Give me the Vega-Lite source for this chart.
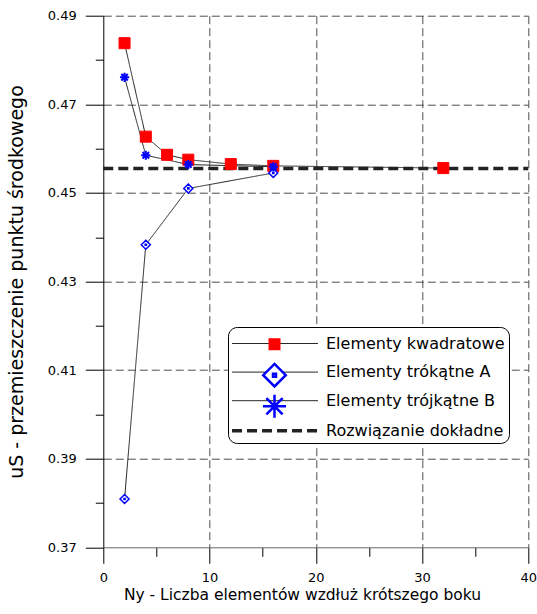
{
  "$schema": "https://vega.github.io/schema/vega-lite/v6.json",
  "width": 425,
  "height": 531.6,
  "autosize": {"type": "none"},
  "padding": {"left": 103.3, "top": 15.7, "right": 8.7, "bottom": 66.7},
  "background": "white",
  "config": {
    "view": {"stroke": null},
    "font": "DejaVu Sans",
    "axis": {
      "labelFont": "DejaVu Sans",
      "titleFont": "DejaVu Sans",
      "labelColor": "#000",
      "titleColor": "#000",
      "labelFontSize": 13,
      "titleFontSize": 15.5,
      "titleFontWeight": "normal",
      "tickColor": "#000",
      "domainColor": "#000",
      "gridColor": "#4d4d4d",
      "gridDash": [8, 4],
      "gridWidth": 1,
      "labelOverlap": false,
      "labelFlush": false,
      "labelBound": false
    }
  },
  "data": {
    "values": [
      {"n": 2, "u": 0.4838, "series": "Elementy kwadratowe"},
      {"n": 4, "u": 0.4627, "series": "Elementy kwadratowe"},
      {"n": 6, "u": 0.4586, "series": "Elementy kwadratowe"},
      {"n": 8, "u": 0.4575, "series": "Elementy kwadratowe"},
      {"n": 12, "u": 0.4565, "series": "Elementy kwadratowe"},
      {"n": 16, "u": 0.4561, "series": "Elementy kwadratowe"},
      {"n": 32, "u": 0.4556, "series": "Elementy kwadratowe"},
      {"n": 2, "u": 0.3809, "series": "Elementy trókątne A"},
      {"n": 4, "u": 0.4383, "series": "Elementy trókątne A"},
      {"n": 8, "u": 0.4510, "series": "Elementy trókątne A"},
      {"n": 16, "u": 0.4545, "series": "Elementy trókątne A"},
      {"n": 2, "u": 0.4761, "series": "Elementy trójkątne B"},
      {"n": 4, "u": 0.4585, "series": "Elementy trójkątne B"},
      {"n": 8, "u": 0.4564, "series": "Elementy trójkątne B"},
      {"n": 16, "u": 0.4559, "series": "Elementy trójkątne B"},
      {"n": 0, "u": 0.4555, "series": "Rozwiązanie dokładne"},
      {"n": 40, "u": 0.4555, "series": "Rozwiązanie dokładne"}
    ]
  },
  "encoding": {
    "x": {
      "field": "n",
      "type": "quantitative",
      "scale": {"domain": [0, 40], "nice": false, "zero": false},
      "axis": {
        "values": [0, 5, 10, 15, 20, 25, 30, 35, 40],
        "labelExpr": "datum.value % 10 === 0 ? datum.label : ''",
        "tickSize": {"condition": {"test": "datum.value % 10 === 0", "value": 16}, "value": 9},
        "grid": true,
        "gridOpacity": {"condition": {"test": "datum.value % 10 === 0 && datum.value > 0", "value": 1}, "value": 0},
        "domainColor": "#666",
        "labelPadding": 8,
        "title": "Ny - Liczba elementów wzdłuż krótszego boku",
        "titleX": 198.7,
        "titlePadding": 3
      }
    },
    "y": {
      "field": "u",
      "type": "quantitative",
      "scale": {"domain": [0.37, 0.49], "nice": false, "zero": false},
      "axis": {
        "values": [0.37, 0.38, 0.39, 0.40, 0.41, 0.42, 0.43, 0.44, 0.45, 0.46, 0.47, 0.48, 0.49],
        "format": ".2f",
        "labelExpr": "round(datum.value * 100) % 2 === 1 ? datum.label : ''",
        "tickSize": {"condition": {"test": "round(datum.value * 100) % 2 === 1", "value": 18}, "value": 8},
        "grid": true,
        "gridOpacity": {"condition": {"test": "round(datum.value * 100) % 2 === 1 && datum.value > 0.375", "value": 1}, "value": 0},
        "labelPadding": 9,
        "title": "uS - przemieszczenie punktu środkowego",
        "titleFontSize": 19,
        "titlePadding": 21
      }
    }
  },
  "layer": [
    {
      "mark": {"type": "line", "color": "#222"},
      "encoding": {
        "strokeDash": {
          "field": "series",
          "type": "nominal",
          "scale": {
            "domain": ["Elementy kwadratowe", "Elementy trókątne A", "Elementy trójkątne B", "Rozwiązanie dokładne"],
            "range": [[1, 0], [1, 0], [1, 0], [10, 5]]
          },
          "legend": {
            "orient": "none",
            "legendX": 124.7,
            "legendY": 311.3,
            "title": null,
            "symbolType": "M-3.58,0H3.58",
            "symbolSize": 576,
            "symbolOffset": 29,
            "symbolStrokeColor": "#333",
            "symbolFillColor": "transparent",
            "labelFont": "DejaVu Sans",
            "labelFontSize": 16,
            "labelColor": "#000",
            "labelOffset": 37,
            "labelLimit": 400,
            "rowPadding": 7.6,
            "padding": 4,
            "strokeColor": "#000",
            "cornerRadius": 9,
            "fillColor": "#fff"
          }
        },
        "strokeWidth": {
          "field": "series",
          "type": "nominal",
          "scale": {
            "type": "ordinal",
            "domain": ["Elementy kwadratowe", "Elementy trókątne A", "Elementy trójkątne B", "Rozwiązanie dokładne"],
            "range": [1, 1, 1, 3.5]
          }
        }
      }
    },
    {
      "encoding": {
        "shape": {
          "field": "series",
          "type": "nominal",
          "scale": {
            "domain": ["Elementy kwadratowe", "Elementy trókątne A", "Elementy trójkątne B"],
            "range": [
              "M-0.38,-0.38H0.38V0.38H-0.38ZM0,-0.92L0,-0.92M0,0.92L0,0.92",
              "M0,-0.9L0.9,0L0,0.9L-0.9,0ZM-0.12,-0.12H0.12V0.12H-0.12ZM0,-0.92L0,-0.92M0,0.92L0,0.92",
              "M0,-0.92V0.92M-0.92,0H0.92M-0.65,-0.65L0.65,0.65M-0.65,0.65L0.65,-0.65"
            ]
          },
          "legend": {
            "orient": "none",
            "legendX": 157.2,
            "legendY": 314.5,
            "title": null,
            "labelExpr": "''",
            "labelFontSize": 16,
            "labelOffset": 0,
            "symbolSize": 625,
            "symbolStrokeWidth": 2.5,
            "symbolOpacity": 1,
            "rowPadding": -5.4,
            "padding": 0
          }
        },
        "fill": {
          "field": "series",
          "type": "nominal",
          "scale": {
            "domain": ["Elementy kwadratowe", "Elementy trókątne A", "Elementy trójkątne B"],
            "range": ["#ff0000", "#ffffff", "transparent"]
          }
        },
        "stroke": {
          "field": "series",
          "type": "nominal",
          "scale": {
            "domain": ["Elementy kwadratowe", "Elementy trókątne A", "Elementy trójkątne B"],
            "range": ["#ff0000", "#0000ff", "#0000ff"]
          }
        }
      },
      "layer": [
        {
          "transform": [{"filter": "datum.series === 'Elementy kwadratowe'"}],
          "mark": {"type": "point", "size": 841, "strokeWidth": 1, "opacity": 1}
        },
        {
          "transform": [{"filter": "datum.series === 'Elementy trókątne A'"}],
          "mark": {"type": "point", "size": 100, "strokeWidth": 1.5, "opacity": 1}
        },
        {
          "transform": [{"filter": "datum.series === 'Elementy trójkątne B'"}],
          "mark": {"type": "point", "size": 100, "strokeWidth": 2, "opacity": 1}
        }
      ]
    }
  ]
}
